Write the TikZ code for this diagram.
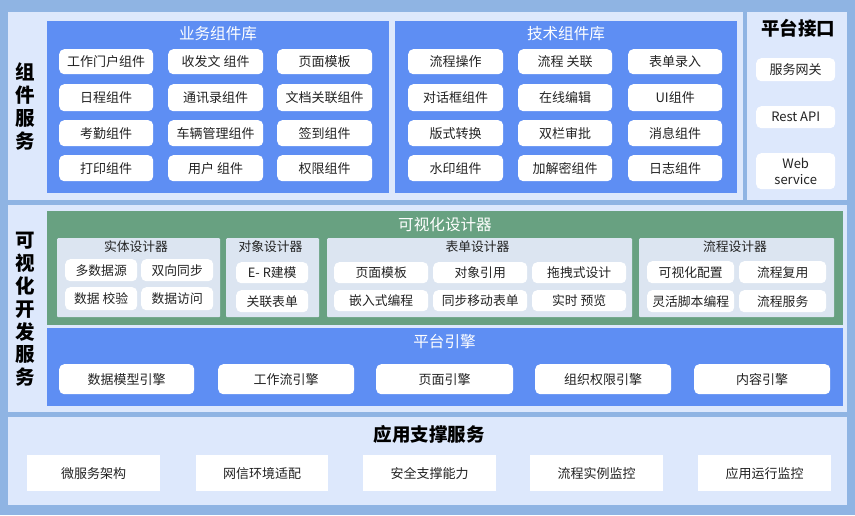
\documentclass[tikz,border=0pt]{standalone}
\usepackage{fontspec}
\setmainfont{Noto Sans CJK SC}
\definecolor{outerbg}{HTML}{8FB4E3}
\definecolor{panelbg}{HTML}{DDE8FC}
\definecolor{libblue}{HTML}{5E8EF3}
\definecolor{desgreen}{HTML}{68A181}
\definecolor{subbg}{HTML}{DCE5F1}
\definecolor{txtdark}{HTML}{222222}
\newcommand{\mybox}[7]{\node[#2, anchor=north west, minimum width={(#5-#3)*1pt}, minimum height={(#6-#4)*1pt}] (#1) at (#3,#4) {#7};}
\tikzset{
  panel/.style={fill=panelbg, draw=none, inner sep=0pt},
  bluebox/.style={fill=libblue, draw=none, inner sep=0pt},
  greenbox/.style={fill=desgreen, draw=none, inner sep=0pt},
  subbox/.style={fill=subbg, draw=none, inner sep=0pt, rounded corners=1pt},
  btn/.style={fill=white, draw=none, rounded corners=5pt, inner sep=0pt, text=txtdark, font=\fontsize{13}{15}\selectfont, align=center},
  sbtn/.style={fill=white, draw=none, rounded corners=5pt, inner sep=0pt, text=txtdark, font=\fontsize{12.8}{15}\selectfont, align=center},
  sqbtn/.style={fill=white, draw=none, inner sep=0pt, text=txtdark, font=\fontsize{13}{15}\selectfont},
  wtitle/.style={text=white, font=\fontsize{15.6}{18}\selectfont, inner sep=0pt},
  stitle/.style={text=txtdark, font=\fontsize{12.8}{15}\selectfont, inner sep=0pt},
  vlabel/.style={text=black, font=\fontsize{19.5}{22.8}\selectfont\bfseries, align=center, inner sep=0pt},
  btitle/.style={text=black, font=\fontsize{18.5}{22}\selectfont\bfseries, inner sep=0pt},
}
\begin{document}
\begin{tikzpicture}[x=1pt,y=-1pt]
\useasboundingbox (0,0) rectangle (855,515);
\fill[outerbg] (0,0) rectangle (855,515);
% ---------- top section ----------
\mybox{toppanel}{panel}{8}{12}{743}{200}{}
\mybox{ifpanel}{panel}{747}{12}{847}{200}{}
\node[vlabel] (lbltop) at (25.5,106.5) {组\\件\\服\\务};
\mybox{bizlib}{bluebox}{47}{21}{389}{193}{}
\node[wtitle] (biztitle) at (218,34) {业务组件库};
\mybox{b11}{btn}{59}{49}{153}{74}{工作门户组件}
\mybox{b12}{btn}{168}{49}{263}{74}{收发文 组件}
\mybox{b13}{btn}{277}{49}{372}{74}{页面模板}
\mybox{b21}{btn}{59}{84}{153}{111}{日程组件}
\mybox{b22}{btn}{168}{84}{263}{111}{通讯录组件}
\mybox{b23}{btn}{277}{84}{372}{111}{文档关联组件}
\mybox{b31}{btn}{59}{120}{153}{146}{考勤组件}
\mybox{b32}{btn}{168}{120}{263}{146}{车辆管理组件}
\mybox{b33}{btn}{277}{120}{372}{146}{签到组件}
\mybox{b41}{btn}{59}{155}{153}{181}{打印组件}
\mybox{b42}{btn}{168}{155}{263}{181}{用户 组件}
\mybox{b43}{btn}{277}{155}{372}{181}{权限组件}
\mybox{techlib}{bluebox}{395}{21}{737}{193}{}
\node[wtitle] (techtitle) at (566,34) {技术组件库};
\mybox{t11}{btn}{408}{49}{503}{74}{流程操作}
\mybox{t12}{btn}{518}{49}{612}{74}{流程 关联}
\mybox{t13}{btn}{628}{49}{722}{74}{表单录入}
\mybox{t21}{btn}{408}{84}{503}{111}{对话框组件}
\mybox{t22}{btn}{518}{84}{612}{111}{在线编辑}
\mybox{t23}{btn}{628}{84}{722}{111}{UI组件}
\mybox{t31}{btn}{408}{120}{503}{146}{版式转换}
\mybox{t32}{btn}{518}{120}{612}{146}{双栏审批}
\mybox{t33}{btn}{628}{120}{722}{146}{消息组件}
\mybox{t41}{btn}{408}{155}{503}{181}{水印组件}
\mybox{t42}{btn}{518}{155}{612}{181}{加解密组件}
\mybox{t43}{btn}{628}{155}{722}{181}{日志组件}
\node[btitle] (iftitle) at (798,28) {平台接口};
\mybox{if1}{btn}{756}{58}{835}{81}{服务网关}
\mybox{if2}{btn}{756}{106}{835}{128}{Rest API}
\mybox{if3}{btn}{756}{153}{835}{189}{Web\\[1.5pt]service}
% ---------- middle section ----------
\mybox{midpanel}{panel}{8}{205}{847}{412}{}
\node[vlabel] (lblmid) at (25.5,309.5) {可\\视\\化\\开\\发\\服\\务};
\mybox{designer}{greenbox}{47}{211}{843}{325}{}
\node[wtitle] (destitle) at (445,225) {可视化设计器};
\mybox{ent}{subbox}{57}{238}{220}{317}{}
\node[stitle] (enttitle) at (136,247) {实体设计器};
\mybox{e11}{sbtn}{65}{259}{137}{281}{多数据源}
\mybox{e12}{sbtn}{141}{259}{213}{281}{双向同步}
\mybox{e21}{sbtn}{65}{287}{137}{310}{数据 校验}
\mybox{e22}{sbtn}{141}{287}{213}{310}{数据访问}
\mybox{obj}{subbox}{226}{238}{319}{317}{}
\node[stitle] (objtitle) at (270.5,247) {对象设计器};
\mybox{o1}{sbtn}{236}{262}{308}{283}{E- R建模}
\mybox{o2}{sbtn}{236}{290}{308}{312}{关联表单}
\mybox{form}{subbox}{327}{238}{632}{317}{}
\node[stitle] (formtitle) at (477.5,247) {表单设计器};
\mybox{f11}{sbtn}{334}{262}{428}{283}{页面模板}
\mybox{f12}{sbtn}{433}{262}{527}{283}{对象引用}
\mybox{f13}{sbtn}{532}{262}{626}{283}{拖拽式设计}
\mybox{f21}{sbtn}{334}{290}{428}{311}{嵌入式编程}
\mybox{f22}{sbtn}{433}{290}{527}{311}{同步移动表单}
\mybox{f23}{sbtn}{532}{290}{626}{311}{实时 预览}
\mybox{flow}{subbox}{639}{238}{834}{317}{}
\node[stitle] (flowtitle) at (735,247) {流程设计器};
\mybox{w11}{sbtn}{647}{261}{734}{283}{可视化配置}
\mybox{w12}{sbtn}{739}{261}{826}{283}{流程复用}
\mybox{w21}{sbtn}{647}{290}{734}{312}{灵活脚本编程}
\mybox{w22}{sbtn}{739}{290}{826}{312}{流程服务}
\mybox{engine}{bluebox}{47}{328}{843}{406}{}
\node[wtitle] (engtitle) at (444.5,342) {平台引擎};
\mybox{g1}{btn}{59}{364}{194}{394}{数据模型引擎}
\mybox{g2}{btn}{218}{364}{354}{394}{工作流引擎}
\mybox{g3}{btn}{376}{364}{513}{394}{页面引擎}
\mybox{g4}{btn}{535}{364}{671}{394}{组织权限引擎}
\mybox{g5}{btn}{694}{364}{830}{394}{内容引擎}
% ---------- bottom section ----------
\mybox{botpanel}{panel}{8}{417}{847}{505}{}
\node[btitle] (bottitle) at (429,434) {应用支撑服务};
\mybox{s1}{sqbtn}{27}{455}{160}{491}{微服务架构}
\mybox{s2}{sqbtn}{196}{455}{328}{491}{网信环境适配}
\mybox{s3}{sqbtn}{363}{455}{496}{491}{安全支撑能力}
\mybox{s4}{sqbtn}{530}{455}{663}{491}{流程实例监控}
\mybox{s5}{sqbtn}{698}{455}{831}{491}{应用运行监控}
\end{tikzpicture}
\end{document}
